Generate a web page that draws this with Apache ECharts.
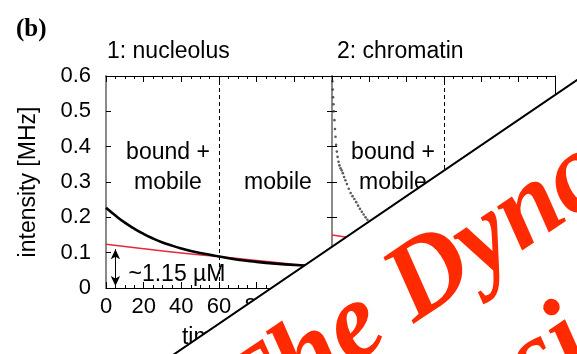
<!DOCTYPE html>
<html><head><meta charset="utf-8">
<script src="https://cdn.jsdelivr.net/npm/echarts@6/dist/echarts.min.js"></script>
<style>html,body{margin:0;padding:0;background:#fff}#c{width:577px;height:354px}</style>
</head><body><div id="c"></div>
<script>
// ---- data ----
const panelTitles = ['1: nucleolus', '2: chromatin'];
const xName = 'time [s]';
const yName = 'intensity [MHz]';
const regionLabels = ['bound +\nmobile', 'mobile'];
const concLabel = '~1.15 \u00b5M';
const boundaryTime = 60;

const nucleolusT = [0, 5, 10, 15, 20, 25, 30, 35, 40, 45, 50, 55, 60, 70, 80, 90, 100, 110, 120];
const nucleolusI = [0.227, 0.205, 0.185, 0.168, 0.153, 0.140, 0.129, 0.120, 0.112, 0.105, 0.099, 0.094, 0.089, 0.080, 0.074, 0.069, 0.065, 0.062, 0.059];
const nucleolusFitT = [0, 20, 40, 60, 80, 100, 120];
const nucleolusFitI = [0.124, 0.111, 0.099, 0.089, 0.078, 0.067, 0.059];

const chromatinT = [0.2, 0.4, 0.6, 0.8, 1.0, 1.3, 1.6, 1.9, 2.2, 2.6, 3.0, 3.5, 4.0, 4.6, 5.2, 5.8, 6.5, 7.2, 8.0, 9.0, 10, 11, 12, 13, 14, 15, 16, 17, 18, 19, 20, 22, 24, 27, 30, 35, 40, 50, 60, 80, 100, 120];
const chromatinI = [0.585, 0.562, 0.54, 0.52, 0.50, 0.475, 0.45, 0.428, 0.405, 0.386, 0.371, 0.357, 0.347, 0.339, 0.333, 0.325, 0.314, 0.305, 0.294, 0.281, 0.269, 0.260, 0.252, 0.243, 0.233, 0.224, 0.216, 0.208, 0.200, 0.193, 0.187, 0.177, 0.168, 0.158, 0.150, 0.140, 0.132, 0.122, 0.115, 0.106, 0.100, 0.095];
const chromatinFitT = [0, 20, 40, 60, 80, 100, 120];
const chromatinFitI = [0.150, 0.135, 0.122, 0.110, 0.100, 0.092, 0.085];

const arrowT = 5;
const arrowRange = [0.006, 0.110];
const overlayLines = ['The Dynamics', 'si'];

// ---- chart ----
const zip = (a, b) => a.map((v, i) => [v, b[i]]);
const FONT = '"Liberation Sans", Arial, sans-serif';
const chart = echarts.init(document.getElementById('c'), null, {renderer: 'canvas'});

function xAxisDef(gi, pos, labels) {
  return {
    gridIndex: gi, type: 'value', position: pos, min: 0, max: 120, interval: 20,
    axisLine: {show: true, onZero: false, lineStyle: {color: '#000', width: 1}},
    axisTick: {show: true, inside: true, length: 6, lineStyle: {color: '#000'}},
    minorTick: {show: true, splitNumber: 4, length: 3, lineStyle: {color: '#000'}},
    axisLabel: {show: labels, color: '#000', fontSize: 22, fontFamily: FONT, margin: 8},
    splitLine: {show: false},
    name: labels ? xName : '', nameLocation: 'middle', nameGap: 38,
    nameTextStyle: {color: '#000', fontSize: 23, fontFamily: FONT}
  };
}
function yAxisDef(gi, pos, labels, gray) {
  return {
    gridIndex: gi, type: 'value', position: pos, min: 0, max: 0.6, interval: 0.1,
    axisLine: {show: true, onZero: false, lineStyle: {color: gray ? '#8a8a8a' : '#000', width: gray ? 2 : 1}},
    axisTick: {show: true, inside: true, length: 5, lineStyle: {color: '#000'}},
    axisLabel: {show: labels, color: '#000', fontSize: 22, fontFamily: FONT, margin: 15,
      formatter: v => v === 0 ? '0' : v.toFixed(1)},
    splitLine: {show: false},
    name: labels ? yName : '', nameLocation: 'middle', nameGap: 66,
    nameTextStyle: {color: '#000', fontSize: 23, fontFamily: FONT}
  };
}

const dashedMark = {
  silent: true, symbol: ['none', 'none'], label: {show: false},
  lineStyle: {color: '#000', type: [4, 3], width: 1},
  data: [{xAxis: boundaryTime}]
};

function txt(x, y, s) {
  return {
    type: 'text', x: x, y: y, z: 50,
    style: {text: s, fill: '#000', font: '23px ' + FONT, align: 'center', verticalAlign: 'middle',
      textAlign: 'center', textVerticalAlign: 'middle', lineHeight: 30}
  };
}

// decorative overlay text along a rotated baseline
const ang = 34 * Math.PI / 180;
const dir = [Math.cos(ang), -Math.sin(ang)];
const OFONT = 'italic bold 110px "Liberation Serif", "Times New Roman", serif';
const mctx = document.createElement('canvas').getContext('2d');
mctx.font = OFONT;
function overlayTextEl(text, prefix, pen) {
  const off = -mctx.measureText(prefix).width;
  return {type: 'text', z: 101, x: pen[0] + dir[0] * off, y: pen[1] + dir[1] * off, rotation: ang,
    style: {text: text, font: OFONT, fill: '#ff2a00', align: 'left', verticalAlign: 'middle',
      textAlign: 'left', textVerticalAlign: 'middle'}};
}

const option = {
  backgroundColor: '#fff',
  animation: false,
  title: [
    {text: '(b)', left: 11, top: 12, textStyle: {fontFamily: '"Liberation Serif", serif', fontWeight: 'bold', fontSize: 25, color: '#000'}},
    {text: panelTitles[0], left: 102, top: 35, textStyle: {fontFamily: FONT, fontWeight: 'normal', fontSize: 23, color: '#000'}},
    {text: panelTitles[1], left: 332, top: 35, textStyle: {fontFamily: FONT, fontWeight: 'normal', fontSize: 23, color: '#000'}}
  ],
  grid: [
    {left: 106, top: 76, width: 226, height: 213},
    {left: 332, top: 76, width: 226, height: 213}
  ],
  xAxis: [xAxisDef(0, 'bottom', true), xAxisDef(0, 'top', false), xAxisDef(1, 'bottom', true), xAxisDef(1, 'top', false)],
  yAxis: [yAxisDef(0, 'left', true, true), yAxisDef(0, 'right', false, false), yAxisDef(1, 'left', false, true), yAxisDef(1, 'right', false, false)],
  series: [
    {type: 'line', xAxisIndex: 0, yAxisIndex: 0, data: zip(nucleolusFitT, nucleolusFitI), showSymbol: false, smooth: true,
      lineStyle: {color: '#e8283c', width: 1.5}, z: 3},
    {type: 'line', xAxisIndex: 0, yAxisIndex: 0, data: zip(nucleolusT, nucleolusI), showSymbol: false, smooth: true,
      lineStyle: {color: '#000', width: 2.6}, z: 4, markLine: dashedMark},
    {type: 'line', xAxisIndex: 0, yAxisIndex: 0, data: [], showSymbol: false,
      markLine: {silent: true, symbol: ['arrow', 'arrow'], symbolSize: [7, 10], label: {show: false},
        lineStyle: {color: '#000', type: 'solid', width: 1},
        data: [[{coord: [arrowT, arrowRange[0]]}, {coord: [arrowT, arrowRange[1]]}]]}},
    {type: 'line', xAxisIndex: 2, yAxisIndex: 2, data: zip(chromatinFitT, chromatinFitI), showSymbol: false, smooth: true,
      lineStyle: {color: '#e8283c', width: 1.5}, z: 3, markLine: dashedMark},
    {type: 'scatter', xAxisIndex: 2, yAxisIndex: 2, data: zip(chromatinT, chromatinI), symbolSize: 2.6,
      itemStyle: {color: '#333'}, z: 4}
  ],
  graphic: [
    txt(168, 168, regionLabels[0]),
    txt(278, 183, regionLabels[1]),
    txt(393, 168, regionLabels[0]),
    txt(506, 183, regionLabels[1]),
    txt(177, 275, concLabel),
    {type: 'polygon', z: 100, shape: {points: [[173, 355], [577, 80], [580, 80], [580, 360], [173, 360]]},
      style: {fill: '#fff', stroke: '#000', lineWidth: 2}},
    overlayTextEl(overlayLines[0], 'The ', [398, 300]),
    overlayTextEl(overlayLines[1], '', [520, 376])
  ]
};
chart.setOption(option);
</script>
</body></html>
